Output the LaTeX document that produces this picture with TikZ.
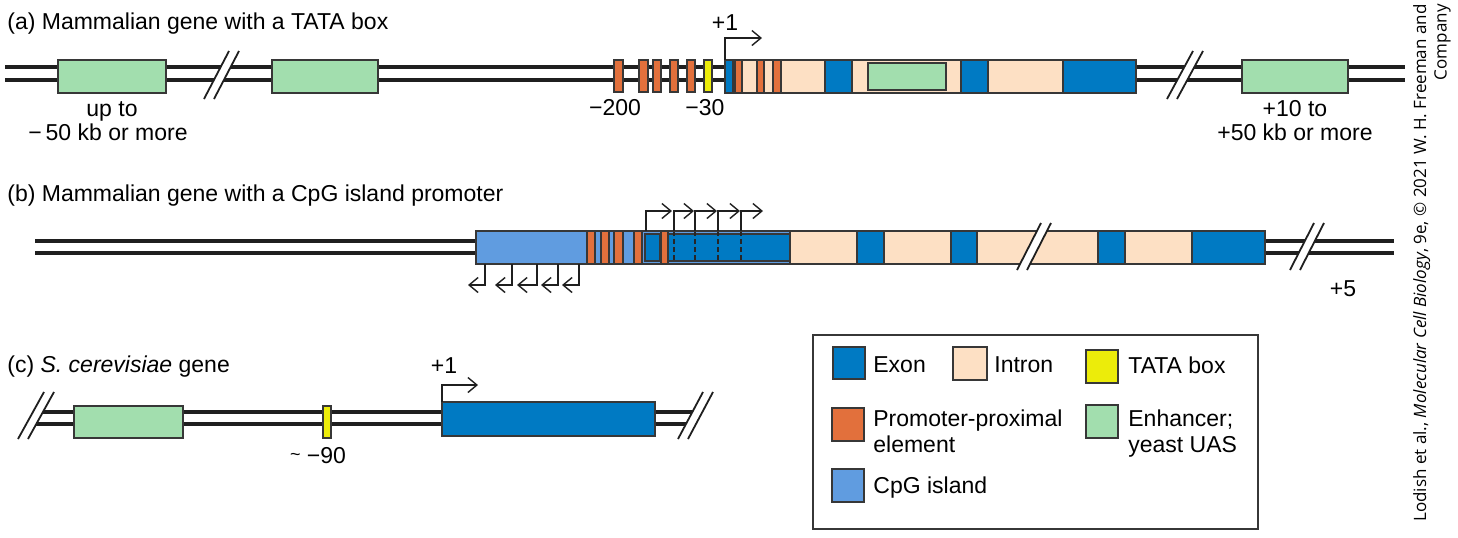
\documentclass[tikz,border=0pt]{standalone}
\usepackage{fontspec}
\setmainfont{Liberation Sans}
\newfontfamily\creditfont{Open Sans}
\usetikzlibrary{arrows.meta}
\definecolor{exonc}{RGB}{0,122,195}
\definecolor{intronc}{RGB}{253,224,196}
\definecolor{tatac}{RGB}{236,236,10}
\definecolor{ppec}{RGB}{226,112,60}
\definecolor{enhc}{RGB}{162,222,174}
\definecolor{cpgc}{RGB}{96,156,224}
\definecolor{edgec}{RGB}{55,55,55}
% #1 x1 bottom, #2 x1 top, #3 x2 bottom, #4 x2 top, #5 y bottom, #6 y top
\newcommand{\dnabreak}[6]{%
  \fill[white] (#1,#5) -- (#2,#6) -- (#4,#6) -- (#3,#5) -- cycle;
  \draw[brk] (#1,#5) -- (#2,#6) (#3,#5) -- (#4,#6);}
\begin{document}
\begin{tikzpicture}[x=0.5pt,y=-0.5pt,
  dna/.style={line width=2pt, draw=black!88},
  brk/.style={line width=0.9pt, draw=black!88},
  box/.style={draw=edgec, line width=0.7pt},
  exon/.style={box, fill=exonc},
  intron/.style={box, fill=intronc},
  tata/.style={box, fill=tatac},
  ppe/.style={box, fill=ppec},
  enh/.style={box, fill=enhc},
  cpg/.style={box, fill=cpgc},
  tss/.style={draw=black!88, line width=0.7pt, -{Straight Barb[length=4.5pt,width=7.5pt]}},
  dsh/.style={draw=black!85, line width=0.8pt, dash pattern=on 2.5pt off 1.5pt},
  lbl/.style={font=\fontsize{11.5}{13}\selectfont, inner sep=0pt, anchor=base},
  lblw/.style={lbl, anchor=base west}]
\useasboundingbox (0,0) rectangle (1458,537);

% ---------------- (a) ----------------
\node[lblw] (ta) at (7,29) {(a) Mammalian gene with a TATA box};
\draw[dna] (5,67) -- (1405,67);
\draw[dna] (5,80) -- (1405,80);
\dnabreak{204}{229}{214}{239}{99}{51}
\dnabreak{1167}{1193}{1177}{1203}{99}{51}
\draw[enh] (58,60) rectangle (166,93);
\draw[enh] (272,60) rectangle (378,93);
\draw[enh] (1242,60) rectangle (1348,93);
\foreach \a/\b in {614/623,639/648,653/661,670/678,687/695}
  \draw[ppe] (\a,60) rectangle (\b,92);
\draw[tata] (704,60) rectangle (712,92);
\fill[intronc] (725,60) rectangle (1136,93);
\draw[exon] (725,60) rectangle (733,93);
\foreach \a/\b in {735/742,757/764,773/781}
  \draw[ppe] (\a,60) rectangle (\b,93);
\draw[exon] (825,60) rectangle (852,93);
\draw[exon] (961,60) rectangle (988,93);
\draw[exon] (1063,60) rectangle (1136,93);
\draw[enh, line width=1pt] (868,63) rectangle (946,90);
\draw[box] (725,60) rectangle (1136,93);
\draw[tss] (725,60) |- (762,38);
\node[lbl] (p1a) at (725,30) {+1};
\node[lbl] (m200) at (615,115) {−200};
\node[lbl] (m30) at (705,115) {−30};
\node[lbl] (upto) at (112,116) {up to};
\node[lbl] (m50) at (108,140) {−\,50 kb or more};
\node[lbl] (p10) at (1295,116) {+10 to};
\node[lbl] (p50) at (1295,140) {+50 kb or more};

% ---------------- (b) ----------------
\node[lblw] (tb) at (7,201) {(b) Mammalian gene with a CpG island promoter};
\draw[dna] (35,241) -- (476,241);
\draw[dna] (35,253) -- (476,253);
\draw[dna] (1265,241) -- (1394,241);
\draw[dna] (1265,253) -- (1394,253);
\dnabreak{1290}{1314}{1300}{1324}{270}{223}
\draw[cpg] (476,231) rectangle (790,264);
\foreach \a/\b in {587/595,601/609,614/623,634/642,661/668}
  \draw[ppe] (\a,231) rectangle (\b,264);
\draw[exon, line width=0.9pt] (645,234) rectangle (660,261);
\draw[exon, line width=0.9pt] (668,234) rectangle (790,261);
\foreach \x in {674,695,718,741}
  \draw[dsh] (\x,231) -- (\x,264);
\fill[intronc] (790,231) rectangle (1265,264);
\draw[intron] (790,231) rectangle (857,264);
\draw[exon] (857,231) rectangle (884,264);
\draw[intron] (884,231) rectangle (951,264);
\draw[exon] (951,231) rectangle (977,264);
\draw[intron] (977,231) rectangle (1098,264);
\draw[exon] (1098,231) rectangle (1125,264);
\draw[intron] (1125,231) rectangle (1192,264);
\draw[exon] (1192,231) rectangle (1265,264);
\draw[box] (476,231) rectangle (1265,264);
\dnabreak{1017}{1041}{1027}{1051}{270}{223}
\draw[tss] (646,231) |- (672,211);
\draw[tss] (674,231) |- (694,211);
\draw[tss] (695,231) |- (717,211);
\draw[tss] (718,231) |- (740,211);
\draw[tss] (741,231) |- (763,211);
\draw[tss] (485,264) |- (468,285);
\draw[tss] (512,264) |- (495,285);
\draw[tss] (537,264) |- (517,285);
\draw[tss] (558,264) |- (541,285);
\draw[tss] (579,264) |- (562,285);
\node[lbl] (p5) at (1343,296) {+5};

% ---------------- (c) ----------------
\node[lblw] (tc) at (7,372) {(c) \textit{S. cerevisiae} gene};
\draw[dna] (30,412) -- (700,412);
\draw[dna] (30,424) -- (700,424);
\fill[white] (0,390) -- (54,390) -- (28,441) -- (0,441) -- cycle;
\fill[white] (678,441) -- (703,390) -- (740,390) -- (740,441) -- cycle;
\draw[brk] (18,439) -- (44,392) (28,439) -- (54,392);
\draw[brk] (678,439) -- (703,392) (688,439) -- (713,392);
\draw[enh] (74,406) rectangle (183,438);
\draw[tata] (323,406) rectangle (331,438);
\draw[exon] (442,402) rectangle (655,436);
\draw[tss] (442,402) |- (478,385);
\node[lbl] (p1c) at (444,373) {+1};
\node[lbl] (m90) at (318,463) {\raisebox{1.5pt}{\fontsize{9}{9}\selectfont\textasciitilde}\ −90};

% ---------------- legend ----------------
\draw[draw=edgec, line width=0.6pt] (813,335) rectangle (1258,529);
\draw[exon] (833,347) rectangle (865,379);
\node[lblw] (lex) at (873,372) {Exon};
\draw[intron] (953,347) rectangle (987,380);
\node[lblw] (lin) at (994,372) {Intron};
\draw[tata] (1086,350) rectangle (1118,383);
\node[lblw] (lta) at (1128,373) {TATA box};
\draw[ppe] (832,408) rectangle (864,441);
\node[lblw] (lpp1) at (873,426) {Promoter-proximal};
\node[lblw] (lpp2) at (873,452) {element};
\draw[enh] (1086,405) rectangle (1118,438);
\node[lblw] (len1) at (1128,426) {Enhancer;};
\node[lblw] (len2) at (1128,452) {yeast UAS};
\draw[cpg] (832,469) rectangle (864,502);
\node[lblw] (lcpg) at (873,493) {CpG island};

% ---------------- credit ----------------
\node[rotate=90, anchor=east, align=right, inner sep=0pt,
      font=\creditfont\fontsize{8.5}{10.2}\selectfont] (credit) at (1432,4)
  {Lodish et al., \textit{Molecular Cell Biology}, 9e, © 2021 W. H. Freeman and\\Company};
\end{tikzpicture}
\end{document}
